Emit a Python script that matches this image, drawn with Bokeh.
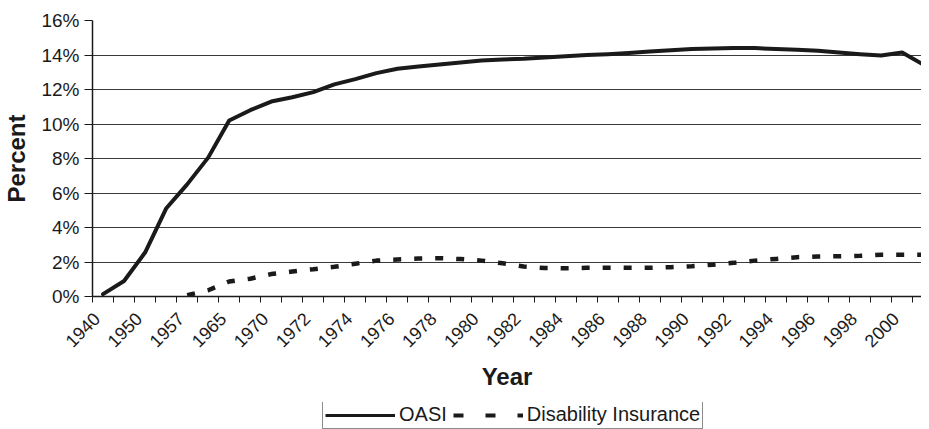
import math
from bokeh.plotting import figure
from bokeh.layouts import column
from bokeh.models import (Range1d, FixedTicker, PrintfTickFormatter, Legend, LegendItem,
                          ColumnDataSource)
from bokeh.embed import file_html
from bokeh.resources import INLINE

# ---- data ----
years = ["1940", "1945", "1950", "1955", "1957", "1960", "1965", "1967",
         "1970", "1971", "1972", "1973", "1974", "1975", "1976", "1977",
         "1978", "1979", "1980", "1981", "1982", "1983", "1984", "1985",
         "1986", "1987", "1988", "1989", "1990", "1991", "1992", "1993",
         "1994", "1995", "1996", "1997", "1998", "1999", "2000", "2001"]

oasi = [0.14, 0.9, 2.55, 5.1, 6.5, 8.05, 10.2, 10.8,
        11.3, 11.55, 11.85, 12.3, 12.6, 12.95, 13.2, 13.33,
        13.45, 13.57, 13.68, 13.74, 13.78, 13.85, 13.93, 14.0,
        14.05, 14.12, 14.2, 14.28, 14.35, 14.38, 14.4, 14.4,
        14.35, 14.3, 14.24, 14.14, 14.05, 13.97, 14.15, 13.45]

nan = float("nan")
disability = [nan, nan, nan, nan, 0.08, 0.36, 0.87, 1.03,
              1.3, 1.45, 1.58, 1.72, 1.9, 2.08, 2.15, 2.2,
              2.22, 2.17, 2.08, 1.93, 1.74, 1.65, 1.64, 1.66,
              1.67, 1.66, 1.66, 1.7, 1.76, 1.84, 1.95, 2.08,
              2.18, 2.28, 2.32, 2.33, 2.36, 2.42, 2.42, 2.42]

series_names = ["OASI", "Disability Insurance"]
y_ticks = [0, 2, 4, 6, 8, 10, 12, 14, 16]

idx = list(range(len(years)))
src = ColumnDataSource(dict(x=idx, oasi=oasi, di=disability))

FONT = "Liberation Sans"
INK = "#1a1a1a"

p = figure(width=921, height=402, output_backend="svg", toolbar_location=None,
           x_range=Range1d(-0.5, 38.92), y_range=Range1d(0, 16),
           min_border_left=85, min_border_right=0, min_border_top=20,
           min_border_bottom=106)
p.outline_line_color = None

p.line("x", "oasi", source=src, line_color=INK, line_width=4,
       line_join="round", line_cap="round")
p.line("x", "di", source=src, line_color=INK, line_width=4.5, line_dash="8 13")

# x axis (category style: labels every other category, ticks at boundaries)
LABEL_SHIFT = -0.3   # rotated labels end slightly left of the category centre
label_pos = [i + LABEL_SHIFT for i in idx[::2]]
xa = p.xaxis[0]
xa.ticker = FixedTicker(ticks=label_pos,
                        minor_ticks=[i - 0.5 for i in range(len(years) + 1)])
xa.major_label_overrides = {pos: years[i] for pos, i in zip(label_pos, idx[::2])}
xa.major_label_orientation = math.pi / 4
xa.major_tick_out = 0
xa.major_tick_in = 0
xa.minor_tick_out = 6
xa.minor_tick_in = 0
xa.minor_tick_line_color = INK
xa.minor_tick_line_width = 1
xa.axis_line_color = INK
xa.axis_line_width = 1.5
xa.major_label_text_font = FONT
xa.major_label_text_font_size = "18px"
xa.major_label_text_color = INK
xa.major_label_standoff = 13
xa.axis_label = "Year"
xa.axis_label_text_font = FONT
xa.axis_label_text_font_size = "24px"
xa.axis_label_text_font_style = "bold"
xa.axis_label_text_color = INK
xa.axis_label_standoff = 7

ya = p.yaxis[0]
ya.ticker = FixedTicker(ticks=y_ticks)
ya.formatter = PrintfTickFormatter(format="%d%%")
ya.major_tick_out = 8
ya.major_tick_in = 0
ya.minor_tick_out = 0
ya.minor_tick_in = 0
ya.major_tick_line_color = INK
ya.axis_line_color = INK
ya.axis_line_width = 1.5
ya.major_label_text_font = FONT
ya.major_label_text_font_size = "19px"
ya.major_label_text_color = INK
ya.major_label_standoff = 5
ya.axis_label = "Percent"
ya.axis_label_text_font = FONT
ya.axis_label_text_font_size = "24px"
ya.axis_label_text_font_style = "bold"
ya.axis_label_text_color = INK
ya.axis_label_standoff = 8

p.xgrid.grid_line_color = None
p.ygrid.grid_line_color = "#3a3a3a"
p.ygrid.grid_line_width = 1.2

# ---- legend strip below the chart ----
lg = figure(width=921, height=27, output_backend="svg", toolbar_location=None,
            x_range=Range1d(0, 1), y_range=Range1d(0, 1),
            min_border=0, x_axis_type=None, y_axis_type=None)
lg.outline_line_color = None
lg.xgrid.grid_line_color = None
lg.ygrid.grid_line_color = None
# sample renderers for the legend only (a single missing point: nothing is drawn)
leg_solid = lg.line(x=[nan], y=[nan], line_color=INK, line_width=3)
leg_dash = lg.line(x=[nan], y=[nan], line_color=INK, line_width=4, line_dash="10 22")

legend = Legend(items=[LegendItem(label=series_names[0], renderers=[leg_solid]),
                       LegendItem(label=series_names[1], renderers=[leg_dash])],
                orientation="horizontal", location=(230, 0),
                glyph_width=70, glyph_height=16, label_standoff=4, spacing=6,
                padding=2, margin=0,
                border_line_color=INK, border_line_width=1,
                background_fill_color="white", background_fill_alpha=1,
                label_text_font=FONT, label_text_font_size="20px",
                label_text_color=INK)
lg.add_layout(legend, "center")

layout = column(p, lg, spacing=0)
open("out.html", "w").write(file_html(layout, INLINE))
